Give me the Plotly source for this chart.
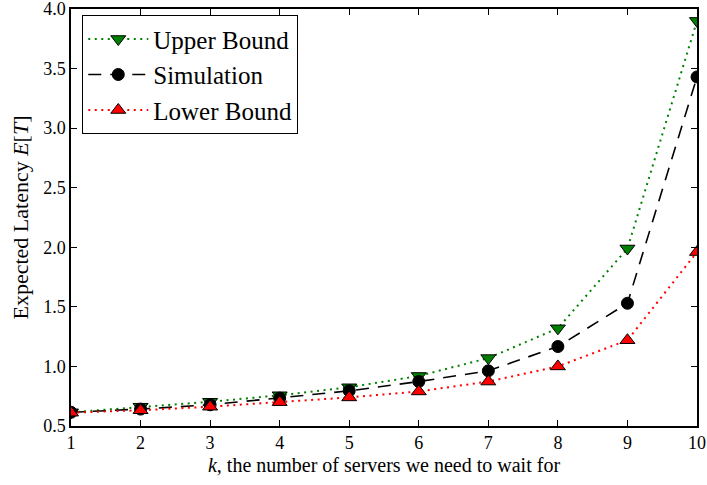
import plotly.graph_objects as go

k = [1, 2, 3, 4, 5, 6, 7, 8, 9, 10]
upper = [0.615, 0.662, 0.703, 0.758, 0.825, 0.92, 1.07, 1.32, 1.99, 3.9]
simulation = [0.615, 0.642, 0.678, 0.734, 0.795, 0.873, 0.963, 1.167, 1.53, 3.43]
lower = [0.612, 0.632, 0.662, 0.70, 0.74, 0.79, 0.873, 1.0, 1.22, 1.96]

x_ticks = list(range(1, 11))
y_ticks = [0.5, 1.0, 1.5, 2.0, 2.5, 3.0, 3.5, 4.0]

FONT = "Liberation Serif"

fig = go.Figure()
fig.add_trace(go.Scatter(
    x=k, y=upper, name="Upper Bound", mode="lines+markers",
    line=dict(color="#008000", dash="2px,4.5px", width=2),
    marker=dict(symbol="triangle-down", size=13, color="#008000",
                line=dict(color="black", width=1)),
))
fig.add_trace(go.Scatter(
    x=k, y=simulation, name="Simulation", mode="lines+markers",
    line=dict(color="black", dash="13px,9px", width=1.6),
    marker=dict(symbol="circle", size=12, color="black",
                line=dict(color="black", width=1)),
))
fig.add_trace(go.Scatter(
    x=k, y=lower, name="Lower Bound", mode="lines+markers",
    line=dict(color="#FF0000", dash="2px,4.5px", width=2),
    marker=dict(symbol="triangle-up", size=13, color="#FF0000",
                line=dict(color="black", width=1)),
))

axis_common = dict(
    showgrid=False, zeroline=False, showline=True, linecolor="black",
    linewidth=1.5, mirror="allticks", ticks="inside", ticklen=6,
    tickcolor="black", tickfont=dict(family=FONT, size=18, color="black"),
    ticklabeloverflow="allow",
)

fig.update_layout(
    width=707, height=485,
    margin=dict(l=71, r=10, t=9, b=59),
    paper_bgcolor="white", plot_bgcolor="white",
    font=dict(family=FONT, color="black"),
    xaxis=dict(
        range=[1, 10], tickvals=x_ticks, ticktext=[str(v) for v in x_ticks],
        title=dict(text="<i>k</i>, the number of servers we need to wait for",
                   font=dict(family=FONT, size=20), standoff=6),
        automargin=False,
        **axis_common,
    ),
    yaxis=dict(
        range=[0.5, 4.0], tickvals=y_ticks, ticktext=[f"{v:.1f}" for v in y_ticks],
        title=dict(text="Expected Latency <i>E</i>[<i>T</i>]",
                   font=dict(family=FONT, size=22), standoff=8),
        automargin=False,
        **axis_common,
    ),
    legend=dict(
        x=0.018, y=0.985, xanchor="left", yanchor="top",
        bordercolor="black", borderwidth=1, bgcolor="white",
        font=dict(family=FONT, size=25), tracegroupgap=0,
        itemwidth=60,
    ),
    showlegend=True,
)

fig.write_html("out.html", config={"displayModeBar": False})

with open("out.html", "r", encoding="utf-8") as f:
    html = f.read()
html = html.replace("<body>", '<body style="margin:0;padding:0;">', 1)
with open("out.html", "w", encoding="utf-8") as f:
    f.write(html)
